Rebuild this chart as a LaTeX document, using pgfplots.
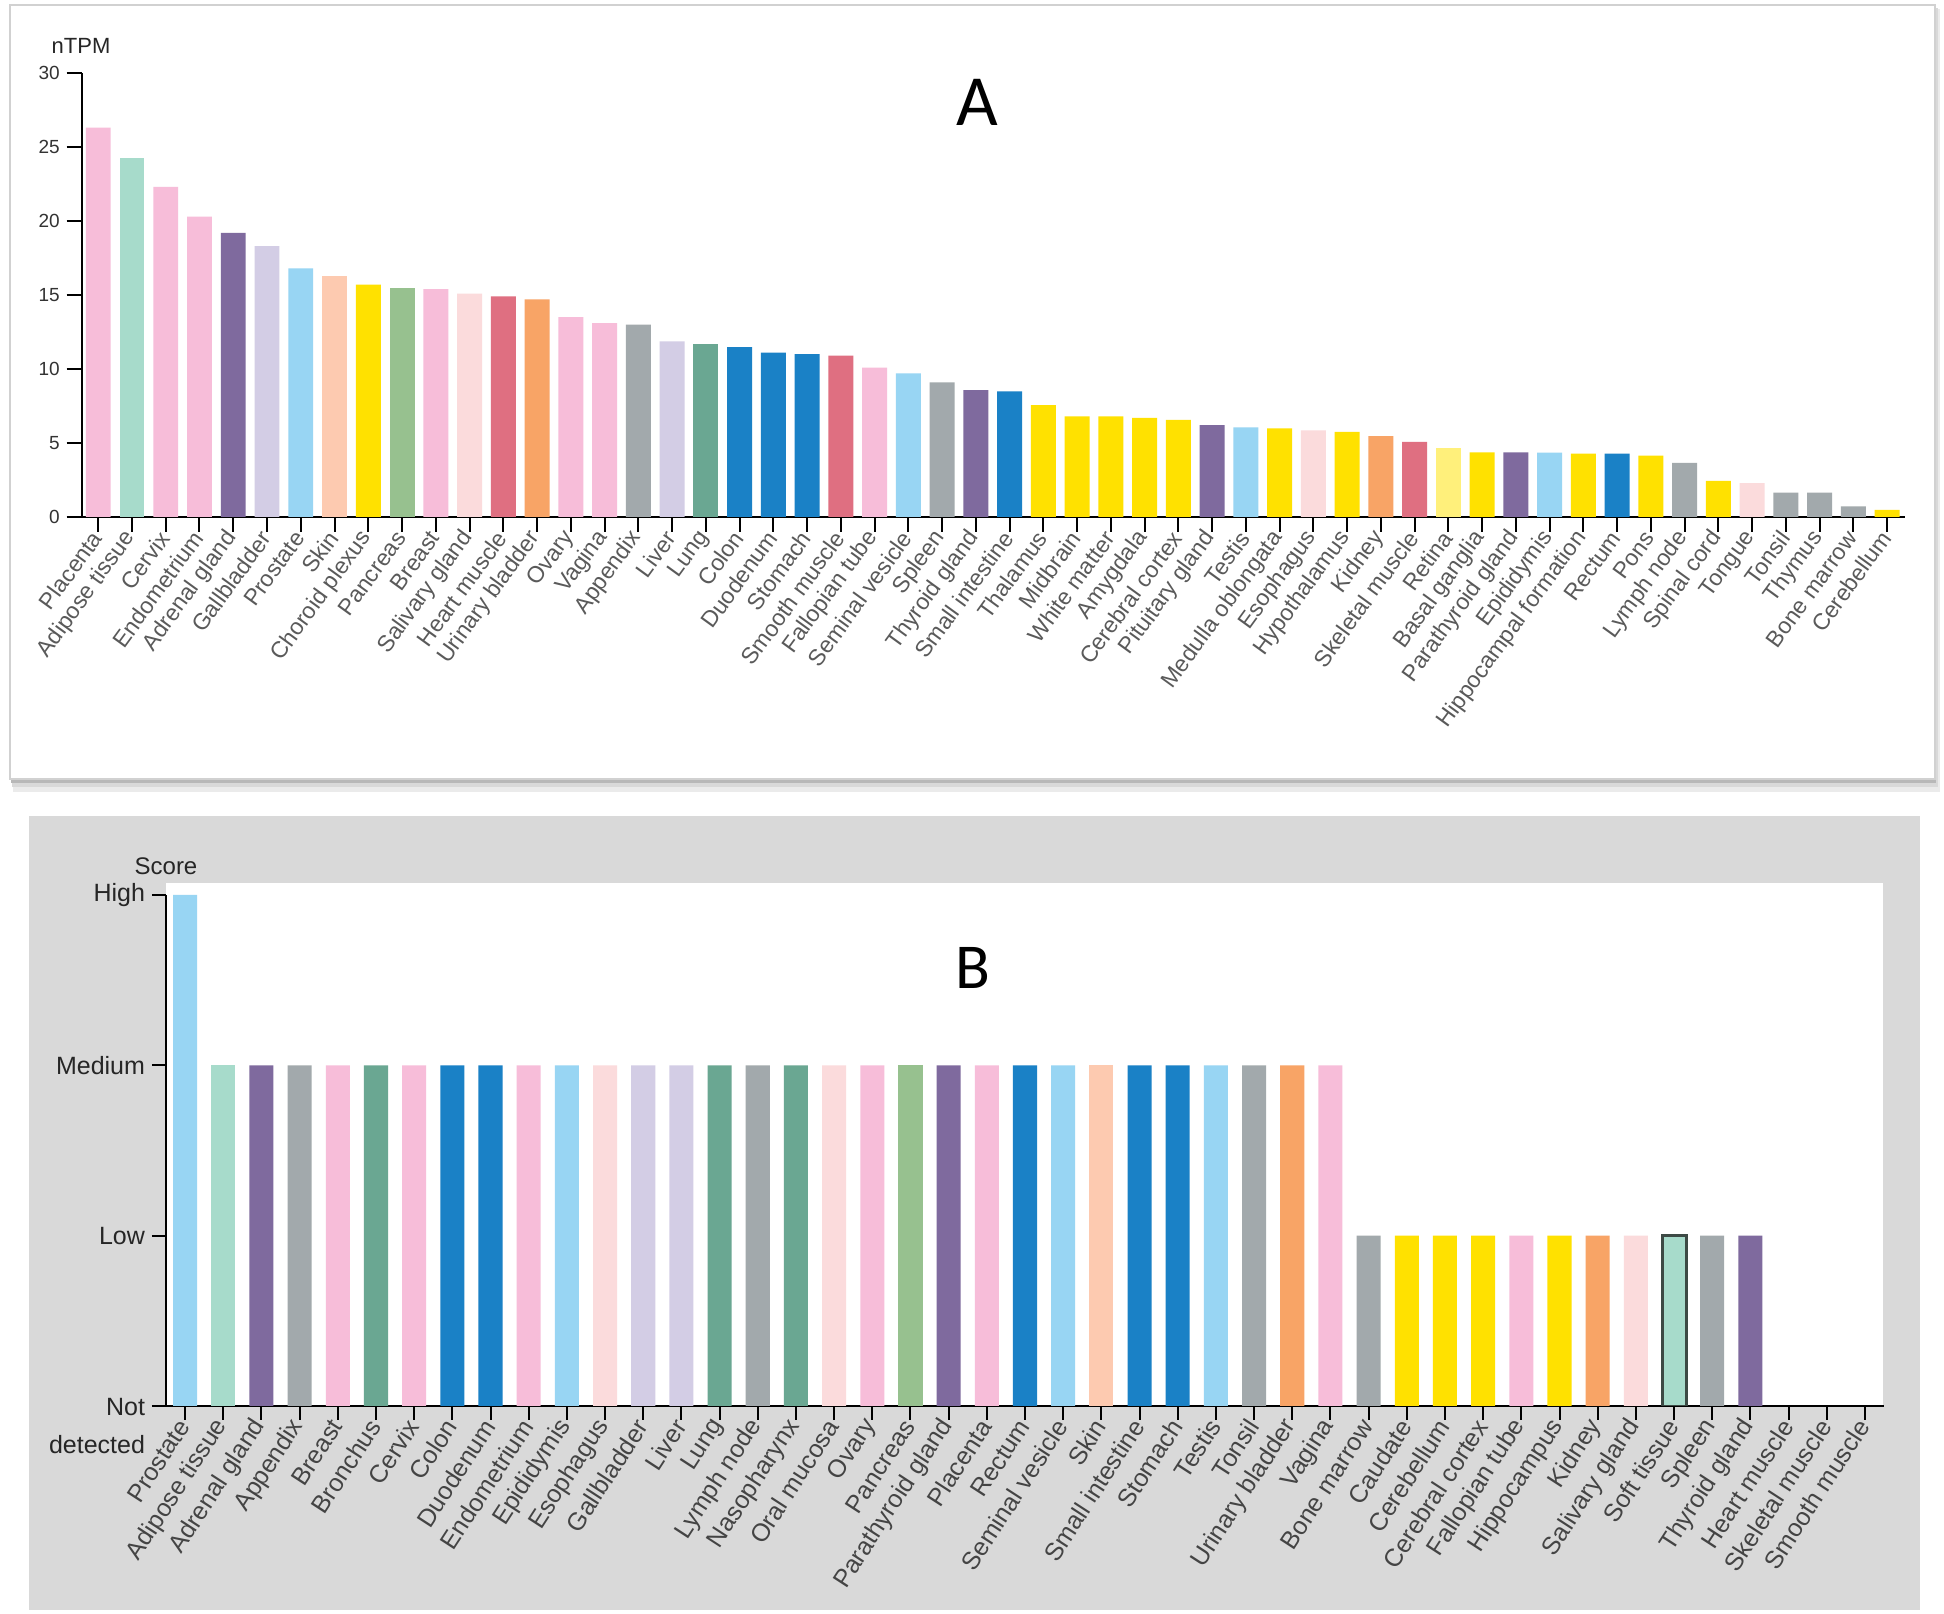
\documentclass[border=0pt]{standalone}
\usepackage{fontspec}
\setmainfont{Liberation Sans}
\newfontfamily\carlito{Carlito}
\usepackage{pgfplots}
\pgfplotsset{compat=1.18}

\definecolor{cpink}{HTML}{F7BDD9}
\definecolor{cmint}{HTML}{A7DBCB}
\definecolor{cpurple}{HTML}{7F6A9E}
\definecolor{clav}{HTML}{D3CDE5}
\definecolor{clblue}{HTML}{98D5F3}
\definecolor{cpeach}{HTML}{FDCAB0}
\definecolor{cyellow}{HTML}{FFE100}
\definecolor{cgreen}{HTML}{97C18F}
\definecolor{clpink}{HTML}{FBDBDC}
\definecolor{cred}{HTML}{DF6F81}
\definecolor{corange}{HTML}{F8A466}
\definecolor{cgray}{HTML}{A2A9AC}
\definecolor{cteal}{HTML}{6AA792}
\definecolor{cblue}{HTML}{1A81C6}
\definecolor{clyellow}{HTML}{FFF07B}
\definecolor{cbox}{HTML}{D9D9D9}
\definecolor{coutline}{HTML}{3D4A45}
\definecolor{labA}{HTML}{5A5A5A}
\definecolor{labB}{HTML}{444444}

\pgfplotsset{
  abar/.style={ybar, bar width=0.74, bar shift=0pt, fill=#1, draw=none},
  bbar/.style={ybar, bar width=0.63, bar shift=0pt, fill=#1, draw=none},
}

\newcommand\notdet{\smash{\raisebox{-0.36em}{\begin{tabular}[t]{@{}r@{}}Not\\[4bp]detected\end{tabular}}}}

\begin{document}
\begin{tikzpicture}
\path[use as bounding box] (0,0) rectangle (972bp,807bp);
\begin{scope}[shift={(0,807bp)}, x=0.5bp, y=-0.5bp]
  % panel A frame with soft shadow
  \fill[black!8] (13,9) rectangle (1940,792);
  \fill[black!15] (12,8) rectangle (1938,787);
  \fill[black!28] (11,7) rectangle (1936,783);
  \fill[white] (10,5) rectangle (1935,779);
  \draw[black!18, line width=1bp] (10,5) rectangle (1935,779);
  % panel B frame
  \fill[cbox] (29,816) rectangle (1920,1610);
  \fill[white] (166,883) rectangle (1883,1406);
  % texts
  \node[font=\fontsize{11bp}{13bp}\selectfont, text=black!85] at (81,46) {nTPM};
  \node[font=\fontsize{36bp}{40bp}\carlito] at (977,102) {A};
  \node[font=\fontsize{12bp}{14bp}\selectfont, text=black!85] at (166,866) {Score};
  \node[font=\fontsize{32bp}{36bp}\carlito] at (973,968) {B};
\end{scope}

% ---------------- Panel A ----------------
\begin{axis}[
  at={(40.85bp,548.5bp)}, anchor=south west,
  scale only axis, width=911.65bp, height=222bp,
  xmin=-0.49, xmax=53.53, ymin=0, ymax=30,
  axis x line*=bottom, axis y line*=left,
  axis line style={line width=1.1bp, black},
  tick align=outside, major tick length=7.5bp,
  tick style={line width=1bp, black},
  ytick={0,5,10,15,20,25,30},
  yticklabels={0,5,10,15,20,25,30},
  yticklabel style={font=\fontsize{9.5bp}{11bp}\selectfont, text=black!80},
  xtick={0,...,53},
  xticklabels={Placenta,Adipose tissue,Cervix,Endometrium,Adrenal gland,Gallbladder,Prostate,Skin,Choroid plexus,Pancreas,Breast,Salivary gland,Heart muscle,Urinary bladder,Ovary,Vagina,Appendix,Liver,Lung,Colon,Duodenum,Stomach,Smooth muscle,Fallopian tube,Seminal vesicle,Spleen,Thyroid gland,Small intestine,Thalamus,Midbrain,White matter,Amygdala,Cerebral cortex,Pituitary gland,Testis,Medulla oblongata,Esophagus,Hypothalamus,Kidney,Skeletal muscle,Retina,Basal ganglia,Parathyroid gland,Epididymis,Hippocampal formation,Rectum,Pons,Lymph node,Spinal cord,Tongue,Tonsil,Thymus,Bone marrow,Cerebellum},
  xticklabel style={rotate=54, anchor=east, font=\fontsize{11.5bp}{13bp}\selectfont, text=labA, inner sep=1bp},
  /pgf/number format/assume math mode=true,
]
\addplot[abar=cpink] coordinates {(0,26.3) (2,22.3) (3,20.3) (10,15.4) (14,13.5) (15,13.1) (23,10.1)};
\addplot[abar=cmint] coordinates {(1,24.25)};
\addplot[abar=cpurple] coordinates {(4,19.2) (26,8.57) (33,6.2) (42,4.37)};
\addplot[abar=clav] coordinates {(5,18.3) (17,11.86)};
\addplot[abar=clblue] coordinates {(6,16.8) (24,9.7) (34,6.05) (43,4.35)};
\addplot[abar=cpeach] coordinates {(7,16.3)};
\addplot[abar=cyellow] coordinates {(8,15.7) (28,7.56) (29,6.79) (30,6.79) (31,6.69) (32,6.57) (35,5.99) (37,5.75) (41,4.37) (44,4.28) (46,4.15) (48,2.44) (53,0.48)};
\addplot[abar=cgreen] coordinates {(9,15.45)};
\addplot[abar=clpink] coordinates {(11,15.1) (36,5.86) (49,2.29)};
\addplot[abar=cred] coordinates {(12,14.9) (22,10.9) (39,5.07)};
\addplot[abar=corange] coordinates {(13,14.7) (38,5.46)};
\addplot[abar=cgray] coordinates {(16,13.0) (25,9.1) (47,3.65) (50,1.64) (51,1.64) (52,0.72)};
\addplot[abar=cteal] coordinates {(18,11.72)};
\addplot[abar=cblue] coordinates {(19,11.47) (20,11.1) (21,11.0) (27,8.48) (45,4.28)};
\addplot[abar=clyellow] coordinates {(40,4.66)};
\end{axis}

% ---------------- Panel B ----------------
\begin{axis}[
  at={(83bp,104bp)}, anchor=south west,
  scale only axis, width=859bp, height=255.5bp,
  xmin=-0.5, xmax=44.5, ymin=0, ymax=3,
  axis x line*=bottom, axis y line*=left,
  axis line style={line width=1.1bp, black},
  tick align=outside, major tick length=7bp,
  tick style={line width=1bp, black},
  ytick={0,1,2,3},
  yticklabels={\notdet,Low,Medium,High},
  yticklabel style={font=\fontsize{12.5bp}{15bp}\selectfont, text=black!85},
  xtick={0,...,44},
  xticklabels={Prostate,Adipose tissue,Adrenal gland,Appendix,Breast,Bronchus,Cervix,Colon,Duodenum,Endometrium,Epididymis,Esophagus,Gallbladder,Liver,Lung,Lymph node,Nasopharynx,Oral mucosa,Ovary,Pancreas,Parathyroid gland,Placenta,Rectum,Seminal vesicle,Skin,Small intestine,Stomach,Testis,Tonsil,Urinary bladder,Vagina,Bone marrow,Caudate,Cerebellum,Cerebral cortex,Fallopian tube,Hippocampus,Kidney,Salivary gland,Soft tissue,Spleen,Thyroid gland,Heart muscle,Skeletal muscle,Smooth muscle},
  xticklabel style={rotate=57, anchor=east, font=\fontsize{12.5bp}{15bp}\selectfont, text=labB, inner sep=1bp},
]
\addplot[bbar=clblue] coordinates {(0,3) (10,2) (23,2) (27,2)};
\addplot[bbar=cmint] coordinates {(1,2)};
\addplot[bbar=cpurple] coordinates {(2,2) (20,2) (41,1)};
\addplot[bbar=cgray] coordinates {(3,2) (15,2) (28,2) (31,1) (40,1)};
\addplot[bbar=cpink] coordinates {(4,2) (6,2) (9,2) (18,2) (21,2) (30,2) (35,1)};
\addplot[bbar=cteal] coordinates {(5,2) (14,2) (16,2)};
\addplot[bbar=cblue] coordinates {(7,2) (8,2) (22,2) (25,2) (26,2)};
\addplot[bbar=clpink] coordinates {(11,2) (17,2) (38,1)};
\addplot[bbar=clav] coordinates {(12,2) (13,2)};
\addplot[bbar=cgreen] coordinates {(19,2)};
\addplot[bbar=cpeach] coordinates {(24,2)};
\addplot[bbar=corange] coordinates {(29,2) (37,1)};
\addplot[bbar=cyellow] coordinates {(32,1) (33,1) (34,1) (36,1)};
\addplot[bbar=cmint, draw=coutline, line width=1.5bp] coordinates {(39,1)};
\addplot[bbar=cgray] coordinates {(42,0) (43,0) (44,0)};
\end{axis}
\end{tikzpicture}
\end{document}
